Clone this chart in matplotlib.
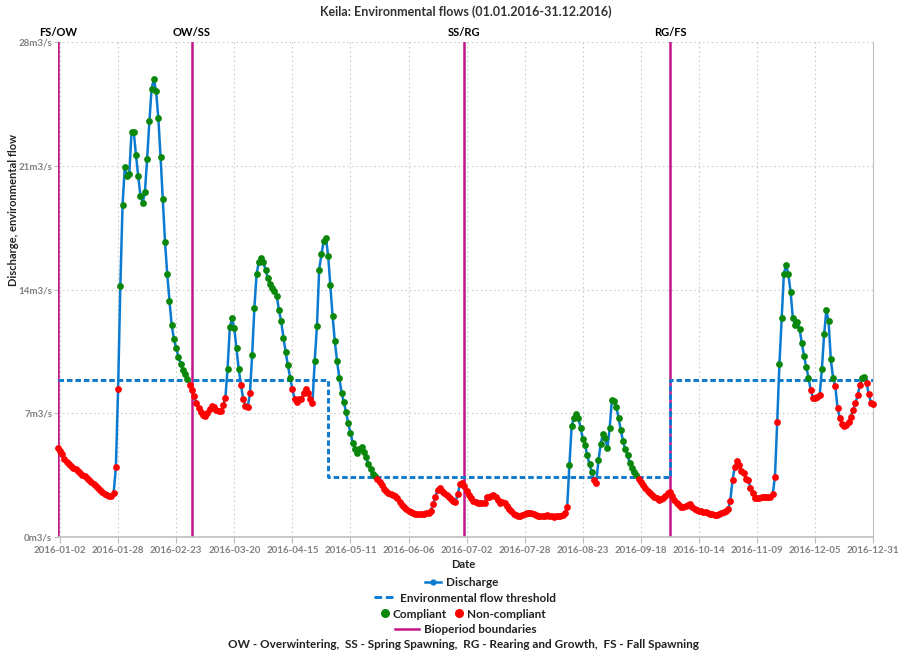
import matplotlib.pyplot as plt
import matplotlib.dates as mdates
from matplotlib.lines import Line2D
import pandas as pd

plt.rcParams['font.family'] = ['Lato', 'DejaVu Sans']

# daily discharge, m3/s
jan = [5.03, 4.87, 4.69, 4.44, 4.24, 4.14, 4.04, 3.94, 3.84, 3.74,
       3.64, 3.54, 3.44, 3.34, 3.24, 3.14, 3.03, 2.92, 2.81, 2.69,
       2.57, 2.46, 2.37, 2.31, 2.33, 2.5, 3.95, 8.4, 14.2, 18.8, 20.9]
feb = [20.4, 20.55, 22.9, 22.9, 21.6, 20.4, 19.3, 18.9, 19.5, 21.4,
       23.5, 25.35, 25.9, 25.2, 23.7, 21.5, 19.1, 16.7, 14.85, 13.35,
       11.97, 11.2, 10.7, 10.2, 9.8, 9.45, 9.2, 8.95, 8.6]
mar = [8.3, 7.96, 7.6, 7.32, 7.08, 6.9, 6.85, 7.04, 7.23, 7.41,
       7.38, 7.17, 7.13, 7.15, 7.45, 7.87, 9.52, 11.87, 12.37, 11.8,
       10.67, 9.5, 8.58, 7.83, 7.41, 7.34, 8.13, 10.3, 12.97, 14.9, 15.57]
apr = [15.79, 15.55, 15.1, 14.66, 14.3, 14.1, 13.93, 13.63, 12.83, 12.2,
       11.28, 10.46, 9.71, 9.02, 8.36, 7.83, 7.66, 7.83, 7.79, 8.13,
       8.4, 8.17, 7.83, 7.6, 9.95, 11.93, 15.13, 15.98, 16.73, 16.92]
may = [15.92, 14.23, 12.5, 11.08, 9.95, 9.02, 8.17, 7.64, 7.1, 6.44,
       5.91, 5.35, 4.97, 4.74, 4.97, 5.12, 4.84, 4.52, 4.14, 3.84,
       3.57, 3.46, 3.31, 3.12, 2.95, 2.75, 2.6, 2.5, 2.45, 2.41, 2.36]
jun = [2.22, 2.02, 1.82, 1.7, 1.58, 1.5, 1.44, 1.38, 1.32, 1.3,
       1.31, 1.32, 1.34, 1.36, 1.4, 1.5, 1.86, 2.3, 2.7, 2.8,
       2.62, 2.5, 2.38, 2.28, 2.18, 2.07, 2.0, 2.45, 2.99, 3.05]
jul = [2.9, 2.6, 2.38, 2.2, 2.05, 1.98, 1.96, 1.95, 1.93, 1.95,
       2.3, 2.28, 2.36, 2.38, 2.3, 2.1, 1.96, 1.98, 1.92, 1.75,
       1.62, 1.48, 1.34, 1.26, 1.2, 1.2, 1.24, 1.3, 1.36, 1.36, 1.35]
aug = [1.3, 1.25, 1.2, 1.2, 1.2, 1.22, 1.24, 1.2, 1.18, 1.17,
       1.18, 1.2, 1.22, 1.26, 1.4, 1.73, 4.1, 6.28, 6.76, 6.98,
       6.75, 6.2, 5.53, 5.2, 4.63, 4.12, 3.69, 3.22, 3.09, 4.36, 5.25]
sep = [5.86, 5.6, 5.04, 6.15, 7.74, 7.68, 7.36, 6.76, 6.04, 5.44,
       4.97, 4.63, 4.22, 3.9, 3.69, 3.5, 3.31, 3.15, 2.95, 2.78,
       2.62, 2.5, 2.4, 2.3, 2.2, 2.12, 2.14, 2.22, 2.35, 2.5]
oct_ = [2.55, 2.32, 2.1, 1.95, 1.82, 1.74, 1.71, 1.75, 1.82, 1.86,
        1.72, 1.6, 1.53, 1.49, 1.47, 1.45, 1.42, 1.39, 1.34, 1.3,
        1.26, 1.24, 1.29, 1.36, 1.42, 1.49, 1.58, 2.05, 3.24, 3.97, 4.31]
nov = [4.07, 3.74, 3.65, 3.31, 3.24, 2.81, 2.48, 2.24, 2.24, 2.24,
       2.25, 2.26, 2.28, 2.29, 2.3, 2.43, 3.43, 6.51, 9.81, 12.41,
       14.9, 15.38, 14.85, 13.85, 12.41, 11.97, 12.16, 11.78, 10.99, 10.24]
dec = [9.62, 9.02, 8.32, 7.89, 7.89, 7.94, 8.02, 9.49, 11.46, 12.83,
       12.21, 10.05, 9.02, 8.54, 7.32, 6.76, 6.38, 6.28, 6.34, 6.51,
       6.82, 7.19, 7.57, 8.02, 8.6, 8.98, 9.07, 8.7, 8.07, 7.6, 7.51]

# environmental flow threshold, changes on these dates
threshold_start = ['2016-01-01', '2016-05-01', '2016-10-01']
threshold_value = [8.87, 3.43, 8.87]

# bioperiod boundaries
boundary_dates = ['2016-01-01', '2016-03-01', '2016-07-01', '2016-10-01']
boundary_labels = ['FS/OW', 'OW/SS', 'SS/RG', 'RG/FS']

y_ticks = [0, 7, 14, 21, 28]

BLUE = '#0a7bd0'
GREEN = '#0b870b'
RED = '#ff0000'
MAGENTA = '#c2158a'

dates = pd.date_range('2016-01-01', '2016-12-31', freq='D')
df = pd.DataFrame({'discharge': jan + feb + mar + apr + may + jun + jul + aug
                   + sep + oct_ + nov + dec}, index=dates)
thr = pd.Series(threshold_value, index=pd.to_datetime(threshold_start))
df['threshold'] = thr.reindex(dates, method='ffill')
ok = df['discharge'] >= df['threshold']

fig = plt.figure(figsize=(9, 6.52), dpi=100)
ax = fig.add_axes([0.0642, 0.1759, 0.9061, 0.7601])

for d, lab in zip(boundary_dates, boundary_labels):
    t = pd.Timestamp(d)
    ax.axvline(t, color=MAGENTA, lw=1.8, zorder=2)
    ax.annotate(lab, (t, 28), xytext=(0, 3), textcoords='offset points',
                ha='center', va='bottom', fontsize=8, fontweight='bold',
                annotation_clip=False)

ax.plot(df.index, df['threshold'], color=BLUE, lw=2.1, dashes=(1.9, 1.0),
        drawstyle='steps-post', zorder=3)
ax.plot(df.index, df['discharge'], color=BLUE, lw=1.8, zorder=4)
ax.scatter(df.index[ok], df['discharge'][ok], s=24, color=GREEN, zorder=5,
           clip_on=False, linewidths=0)
ax.scatter(df.index[~ok], df['discharge'][~ok], s=24, color=RED, zorder=5,
           clip_on=False, linewidths=0)

ax.set_xlim(dates[0], dates[-1])
ax.set_ylim(0, 28)
ax.set_xticks(pd.date_range('2016-01-02', '2016-12-31', freq='26D'))
ax.xaxis.set_major_formatter(mdates.DateFormatter('%Y-%m-%d'))
ax.set_yticks(y_ticks)
ax.set_yticklabels([f'{v}m3/s' for v in y_ticks])
ax.tick_params(axis='x', length=4, color='#bbbbbb', labelsize=7,
               labelcolor='#808080', pad=2)
ax.tick_params(axis='y', length=3, color='#bbbbbb', labelsize=7,
               labelcolor='#808080', pad=1)
for lbl in ax.get_xticklabels() + ax.get_yticklabels():
    lbl.set_fontweight('bold')

ax.grid(True, ls=(0, (1.5, 2.5)), color='#cccccc', lw=0.8, zorder=0)
ax.set_axisbelow(True)
for s in ['top', 'left']:
    ax.spines[s].set_visible(False)
ax.spines['right'].set_color('#c0c0c0')
ax.spines['bottom'].set_color('#c0c0c0')
ax.spines['bottom'].set_linewidth(1.2)

fig.text(466 / 900, 1 - 12 / 652, 'Keila: Environmental flows (01.01.2016-31.12.2016)',
         ha='center', va='center', fontsize=9, fontweight='bold', color='#333333')
fig.text(14 / 900, 1 - 210 / 652, 'Discharge, environmental flow', rotation=90,
         ha='center', va='center', fontsize=8, fontweight='bold', color='#222222')
fig.text(463 / 900, 1 - 564 / 652, 'Date', ha='center', va='center',
         fontsize=8, fontweight='bold', color='#222222')

prop = {'size': 8.5, 'weight': 'bold'}
leg_kw = dict(frameon=False, loc='center', borderpad=0, borderaxespad=0,
              handletextpad=0.5, prop=prop, labelcolor='#222222')
fig.legend([Line2D([], [], color=BLUE, lw=1.8, marker='o', ms=3.5)], ['Discharge'],
           bbox_to_anchor=(462 / 900, 1 - 582.5 / 652), handlelength=1.3, **leg_kw)
fig.legend([Line2D([], [], color=BLUE, lw=2.1, dashes=(2.6, 1.3))],
           ['Environmental flow threshold'],
           bbox_to_anchor=(465 / 900, 1 - 598 / 652), handlelength=1.7, **leg_kw)
fig.legend([Line2D([], [], ls='none', marker='o', ms=5.5, color=GREEN),
            Line2D([], [], ls='none', marker='o', ms=5.5, color=RED)],
           ['Compliant', 'Non-compliant'], ncol=2, columnspacing=0.7,
           bbox_to_anchor=(463 / 900, 1 - 614 / 652), handlelength=0.7,
           **{**leg_kw, 'handletextpad': 0.3})
fig.legend([Line2D([], [], color=MAGENTA, lw=1.8)], ['Bioperiod boundaries'],
           bbox_to_anchor=(466 / 900, 1 - 629.5 / 652), handlelength=2.0, **leg_kw)
fig.text(463 / 900, 1 - 645 / 652,
         'OW - Overwintering,  SS - Spring Spawning,  RG - Rearing and Growth,  FS - Fall Spawning',
         ha='center', va='center', fontsize=8.5, fontweight='bold', color='#222222')

fig.savefig('out.png', dpi=100)
